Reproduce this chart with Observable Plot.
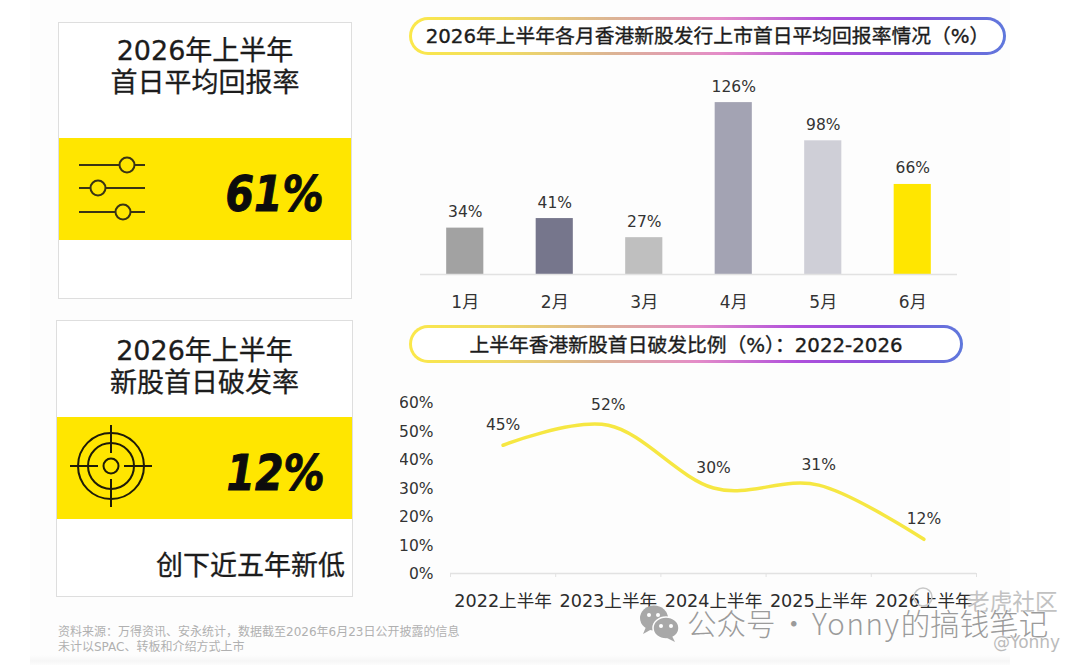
<!DOCTYPE html>
<html lang="zh">
<head>
<meta charset="utf-8">
<script src="https://cdn.jsdelivr.net/npm/d3@7"></script>
<script src="https://cdn.jsdelivr.net/npm/@observablehq/plot@0.6"></script>
<style>
html,body{margin:0;padding:0;background:#fff}
#page{position:relative;width:1080px;height:665px;overflow:hidden;background:#fff;font-family:"DejaVu Sans","Noto Sans CJK SC",sans-serif;color:#222}
#page .abs{position:absolute}
.card{position:absolute;box-sizing:border-box;border:1.5px solid #dedede;background:#fff}
.band{position:absolute;left:0;right:0;background:#ffe600}
.head{position:absolute;left:0;right:0;text-align:center;font-size:27px;line-height:32px;color:#1c1c1c;-webkit-text-stroke:.3px #1c1c1c}
.big{position:absolute;font-weight:700;font-style:italic;font-size:50px;line-height:60px;color:#0c0c0c;-webkit-text-stroke:1px #0c0c0c;transform:scaleX(.82);transform-origin:right center;right:27px}
.pill{position:absolute;box-sizing:border-box;border:3px solid transparent;border-radius:19px;
 background:linear-gradient(#fff,#fff) padding-box,linear-gradient(90deg,#fbe84a 0%,#f0dc62 16%,#dcb494 34%,#e48cc8 52%,#b050dc 70%,#8a50dc 84%,#5e78dc 100%) border-box;
 text-align:center;font-size:19.8px;color:#1c1c1c;-webkit-text-stroke:.35px #1c1c1c;white-space:nowrap}
.plot{position:absolute}
.plot svg{overflow:visible;background:transparent}
.foot{position:absolute;left:58px;font-size:12px;line-height:15px;color:#b0b0b0;white-space:nowrap}
.wm{position:absolute;white-space:nowrap;color:#9b9b9b;text-shadow:0 0 2px #fff,0 0 2px #fff}
</style>
</head>
<body>
<div id="page"></div>
<script>
// Data: top bar chart
const months = ["1月", "2月", "3月", "4月", "5月", "6月"];
const monthlyReturn = [34, 41, 27, 126, 98, 66];
const barColors = ["#a2a2a2", "#76768c", "#bfbfbf", "#a3a3b3", "#cfcfd7", "#ffe600"];

// Data: bottom line chart
const periods = ["2022上半年", "2023上半年", "2024上半年", "2025上半年", "2026上半年"];
const breakRate = [45, 52, 30, 31, 12];
const yTicks = [0, 10, 20, 30, 40, 50, 60];

// Text
const chartTitleTop = "2026年上半年各月香港新股发行上市首日平均回报率情况（%）";
const chartTitleBottom = "上半年香港新股首日破发比例（%）：2022-2026";
const kpiReturn = "61%";
const kpiBreak = "12%";
const sourceNotes = ["资料来源：万得资讯、安永统计，数据截至2026年6月23日公开披露的信息", "未计以SPAC、转板和介绍方式上市"];

const FONT = '"DejaVu Sans","Noto Sans CJK SC",sans-serif';
const page = document.getElementById("page");
function add(html){page.insertAdjacentHTML("beforeend", html);}

add(`<div class="abs" style="left:30px;top:0;width:980px;height:665px;background:#fdfdfd"></div>`);
add(`<div class="abs" style="left:30px;top:655px;width:980px;height:10px;background:linear-gradient(#fdfdfd,#f6f6f6 60%,#fcfcfc)"></div>`);

// Card 1
add(`<div class="card" style="left:58px;top:22px;width:294px;height:277px">
  <div class="head" style="top:12px">2026年上半年<br>首日平均回报率</div>
  <div class="band" style="top:115px;height:102px">
    <svg width="100" height="102" style="position:absolute;left:0;top:0" fill="#ffe600" stroke="#3a3414" stroke-width="2">
      <path d="M20 27H86M20 50H86M20 74H86" fill="none"/>
      <circle cx="68" cy="27" r="7.5"/><circle cx="39" cy="50" r="7.5"/><circle cx="64" cy="74" r="7.5"/>
    </svg>
    <div class="big" style="top:26px">${kpiReturn}</div>
  </div>
</div>`);

// Card 2
add(`<div class="card" style="left:56px;top:320px;width:297px;height:277px">
  <div class="head" style="top:14px">2026年上半年<br>新股首日破发率</div>
  <div class="band" style="top:96px;height:102px">
    <svg width="100" height="102" style="position:absolute;left:0;top:0" fill="none" stroke="#1e1b08" stroke-width="2">
      <circle cx="54" cy="49" r="33"/><circle cx="54" cy="49" r="23"/><circle cx="54" cy="49" r="7.5"/>
      <path d="M13 49H41M67 49H95M54 8V36M54 62V90"/>
    </svg>
    <div class="big" style="top:26px">${kpiBreak}</div>
  </div>
  <div class="head" style="top:229px;text-align:right;right:7px">创下近五年新低</div>
</div>`);

// Title pills
add(`<div class="pill" style="left:409px;top:17px;width:597px;height:38px;line-height:34px">${chartTitleTop}</div>`);
add(`<div class="pill" style="left:409px;top:325px;width:554px;height:38px;line-height:35px">${chartTitleBottom}</div>`);

// Bar chart
const barData = months.map((m, i) => ({month: m, value: monthlyReturn[i]}));
const bar = Plot.plot({
  width: 580, height: 250,
  marginLeft: 20, marginRight: 23, marginTop: 13, marginBottom: 46,
  style: {fontFamily: FONT, background: "transparent", color: "#2a2a2a"},
  x: {domain: months, paddingInner: 0.585, paddingOuter: 0.2925, round: false, label: null},
  y: {domain: [0, 140], axis: null},
  color: {domain: months, range: barColors},
  marks: [
    Plot.barY(barData, {x: "month", y: "value", fill: "month"}),
    Plot.ruleY([0], {stroke: "#e2e2e2", strokeWidth: 1.5}),
    Plot.text(barData, {x: "month", y: "value", text: d => d.value + "%", dy: -16, fontSize: 15.5, fill: "#333"}),
    Plot.axisX({tickSize: 0, tickPadding: 21, fontSize: 17, label: null, fill: "#333"})
  ]
});
bar.classList.add("plot");
bar.style.left = "400px"; bar.style.top = "70px";
page.appendChild(bar);

// Line chart: categories sit between the ticks at the band edges
const lineData = periods.map((p, i) => ({slot: i + 0.5, period: p, value: breakRate[i]}));
const line = Plot.plot({
  width: 600, height: 240,
  marginLeft: 50, marginRight: 24, marginTop: 17, marginBottom: 52,
  style: {fontFamily: FONT, background: "transparent", color: "#2a2a2a"},
  x: {domain: [0, periods.length], label: null},
  y: {domain: [0, 60], label: null},
  marks: [
    Plot.ruleY([0], {stroke: "#e2e2e2", strokeWidth: 1.5}),
    Plot.axisX({ticks: d3.range(periods.length + 1), tickSize: 4, tickFormat: () => "", stroke: "#e2e2e2", label: null}),
    Plot.axisX({ticks: lineData.map(d => d.slot), tickSize: 0, tickPadding: 21, tickFormat: v => periods[v - 0.5], fontSize: 17.6, label: null, fill: "#2c2c2c"}),
    Plot.axisY({ticks: yTicks, tickSize: 0, tickPadding: 17, tickFormat: d => d + "%", fontSize: 15.5, dy: 1, label: null, fill: "#333"}),
    Plot.line(lineData, {x: "slot", y: "value", curve: "cardinal", tension: 0, stroke: "#f6e742", strokeWidth: 3.5}),
    Plot.text(lineData, {x: "slot", y: "value", text: d => d.value + "%", dy: -20, fontSize: 15.5, fill: "#333"})
  ]
});
line.classList.add("plot");
line.style.left = "400px"; line.style.top = "385px";
page.appendChild(line);

// Source notes
add(`<div class="foot" style="top:625px">${sourceNotes[0]}<br>${sourceNotes[1]}</div>`);

// Watermarks
add(`<div class="wm" style="left:967px;top:586px;font-size:22.7px;line-height:32px;color:#c2c2c2">老虎社区</div>`);
add(`<svg class="abs" style="left:912px;top:586px" width="22" height="22" fill="none" stroke="#c8c8c8" stroke-width="1.5"><circle cx="11" cy="11" r="9"/></svg>`);
add(`<svg class="abs" style="left:638px;top:603px" width="42" height="40" fill="#a8a8a8">
  <ellipse cx="16" cy="15" rx="14" ry="12.5"/><path d="M8 24l-3 7 9-5z"/>
  <ellipse cx="28" cy="25" rx="13" ry="11" stroke="#fff" stroke-width="1.5"/><path d="M34 33l3 6-8-4z"/>
  <circle cx="23" cy="23" r="2" fill="#fff"/><circle cx="33" cy="23" r="2" fill="#fff"/>
  <circle cx="11" cy="12" r="2" fill="#fff"/><circle cx="20" cy="12" r="2" fill="#fff"/>
</svg>`);
add(`<div class="wm" style="left:687px;top:604px;font-size:29.5px;line-height:36px;word-spacing:-3px;font-family:'Noto Sans CJK SC','DejaVu Sans',sans-serif;font-weight:300">公众号 · <span style="letter-spacing:1.6px">Yonny</span>的搞钱笔记</div>`);
add(`<div class="wm" style="left:993px;top:632px;font-size:17px;line-height:20px;color:#bbb">@Yonny</div>`);
</script>
</body>
</html>
